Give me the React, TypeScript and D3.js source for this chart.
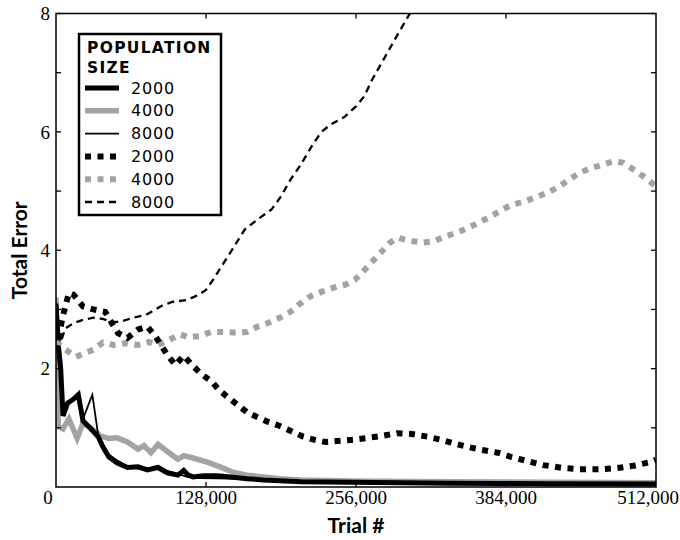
import React from "react";
import * as d3 from "d3";

// Trial in thousands, Total Error
const solid2000: [number, number][] = [
  [0, 3.1], [2, 2.4], [4, 2.0], [6, 1.2], [10, 1.42], [14, 1.47], [19, 1.56], [23, 1.12], [28, 1.02],
  [36, 0.85], [40, 0.68], [45, 0.51], [52, 0.41], [61, 0.33], [70, 0.34], [78, 0.29], [87, 0.33],
  [95, 0.24], [104, 0.2], [109, 0.28], [113, 0.2], [117, 0.17], [126, 0.19], [138, 0.19], [149, 0.17],
  [163, 0.14], [177, 0.12], [209, 0.09], [251, 0.08], [294, 0.07], [336, 0.065], [379, 0.06], [422, 0.055], [512, 0.05],
];
const solid4000: [number, number][] = [
  [0, 3.2], [1, 1.8], [2, 1.02], [6, 0.98], [11, 1.15], [18, 0.82], [23, 1.08], [31, 0.98], [38, 0.86],
  [45, 0.82], [52, 0.83], [61, 0.76], [70, 0.64], [75, 0.7], [81, 0.58], [87, 0.72], [95, 0.6],
  [104, 0.47], [109, 0.53], [117, 0.49], [129, 0.42], [140, 0.34], [151, 0.25], [163, 0.2], [177, 0.17],
  [191, 0.14], [209, 0.12], [251, 0.1], [336, 0.09], [422, 0.08], [512, 0.07],
];
const solid8000: [number, number][] = [
  [0, 2.9], [2, 2.3], [4, 1.9], [6, 1.25], [10, 1.38], [14, 1.5], [19, 1.55], [23, 1.15], [31, 1.56],
  [36, 0.88], [40, 0.7], [45, 0.55], [52, 0.45], [61, 0.35], [70, 0.31], [78, 0.3], [87, 0.36],
  [95, 0.27], [104, 0.22], [112, 0.17], [123, 0.15], [149, 0.14], [177, 0.12], [209, 0.1], [294, 0.08], [512, 0.06],
];
const dotted2000: [number, number][] = [
  [0, 2.3], [5.5, 2.86], [11, 3.28], [15, 3.25], [23, 3.05], [32, 3.0], [42, 2.96], [47, 2.79], [53, 2.6],
  [61, 2.52], [70, 2.66], [78, 2.71], [85, 2.54], [95, 2.23], [102, 2.06], [109, 2.22], [116, 2.06],
  [124, 1.91], [133, 1.78], [139, 1.64], [147, 1.51], [156, 1.37], [164, 1.25], [173, 1.17], [181, 1.1],
  [191, 1.03], [200, 0.95], [211, 0.85], [220, 0.8], [230, 0.76], [243, 0.78], [254, 0.8], [266, 0.83],
  [277, 0.86], [291, 0.91], [302, 0.9], [317, 0.85], [328, 0.8], [339, 0.74], [351, 0.68], [362, 0.63],
  [377, 0.58], [388, 0.51], [402, 0.44], [416, 0.37], [433, 0.32], [447, 0.3], [464, 0.3], [479, 0.32],
  [493, 0.36], [507, 0.42], [512, 0.46],
];
const dotted4000: [number, number][] = [
  [0, 2.45], [6, 2.35], [17, 2.2], [23, 2.25], [32, 2.32], [40, 2.44], [49, 2.4], [59, 2.43], [70, 2.4],
  [79, 2.45], [87, 2.4], [98, 2.5], [106, 2.58], [113, 2.53], [123, 2.55], [132, 2.62], [142, 2.62],
  [151, 2.61], [163, 2.62], [172, 2.71], [181, 2.77], [191, 2.86], [200, 2.96], [207, 3.08], [217, 3.22],
  [227, 3.3], [237, 3.37], [247, 3.42], [255, 3.5], [262, 3.64], [270, 3.81], [278, 3.98], [285, 4.13],
  [292, 4.21], [302, 4.16], [313, 4.13], [322, 4.15], [332, 4.23], [342, 4.3], [352, 4.38], [362, 4.48],
  [371, 4.57], [381, 4.69], [389, 4.77], [399, 4.82], [409, 4.89], [419, 4.97], [428, 5.06], [437, 5.18],
  [446, 5.3], [455, 5.38], [464, 5.43], [475, 5.5], [484, 5.48], [493, 5.36], [501, 5.25], [512, 5.08],
];
const dashed8000: [number, number][] = [
  [0, 3.0], [4, 2.45], [8, 2.68], [15, 2.77], [24, 2.83], [32, 2.86], [40, 2.84], [47, 2.79], [54, 2.79],
  [61, 2.83], [70, 2.88], [77, 2.91], [84, 2.99], [92, 3.08], [100, 3.13], [112, 3.16], [122, 3.25],
  [128, 3.33], [134, 3.5], [141, 3.72], [150, 4.0], [161, 4.35], [172, 4.52], [184, 4.69], [192, 4.91],
  [200, 5.19], [209, 5.45], [218, 5.75], [226, 5.99], [234, 6.12], [246, 6.25], [256, 6.43], [263, 6.6],
  [270, 6.89], [278, 7.17], [286, 7.45], [294, 7.73], [302, 8.0], [320, 8.6],
];

const xTickValues = [0, 128000, 256000, 384000, 512000];
const xTickLabels = ["0", "128,000", "256,000", "384,000", "512,000"];
const yTickValues = [1, 2, 3, 4, 5, 6, 7, 8];
const yLabelValues = [2, 4, 6, 8];
const legendTitle = ["POPULATION", "SIZE"];
const legendLabels = ["2000", "4000", "8000", "2000", "4000", "8000"];

const GRAY = "#a3a3a3";

const styles = [
  { data: solid4000, color: GRAY, width: 5.5, dash: null as string | null },
  { data: solid2000, color: "#000", width: 5, dash: null },
  { data: solid8000, color: "#000", width: 1.8, dash: null },
  { data: dotted4000, color: GRAY, width: 6, dash: "6,6.5" },
  { data: dotted2000, color: "#000", width: 6, dash: "6,6.5" },
  { data: dashed8000, color: "#000", width: 2.3, dash: "7,5" },
];
const legendOrder = [1, 0, 2, 4, 3, 5];

export default function App() {
  const W = 680, H = 540;
  const left = 56, right = 656, top = 13.5, bottom = 487;
  const x = d3.scaleLinear().domain([0, 512000]).range([left, right]);
  const y = d3.scaleLinear().domain([0, 8]).range([bottom, top]);
  const line = d3.line<[number, number]>().x((d) => x(d[0] * 1000)).y((d) => y(d[1]));
  const tickLen = 5;
  const serif = "'Liberation Serif', 'DejaVu Serif', serif";
  const sans = "Lato, 'Open Sans', sans-serif";
  const legendFont = "'DejaVu Sans', sans-serif";
  const lx = 79, ly = 34, lw = 142, lh = 181;
  const rowY = (i: number) => 88 + i * 22.8;

  return (
    <svg width={W} height={H} style={{ position: "absolute", left: 0, top: 0, background: "#fff" }}>
      <defs>
        <clipPath id="plotClip">
          <rect x={left} y={top} width={right - left} height={bottom - top} />
        </clipPath>
      </defs>
      <rect x={0} y={0} width={W} height={H} fill="#fff" />
      <g clipPath="url(#plotClip)" fill="none">
        {styles.map((s, i) => (
          <path
            key={i}
            d={line(s.data) || ""}
            stroke={s.color}
            strokeWidth={s.width}
            strokeDasharray={s.dash || undefined}
            strokeLinejoin="miter"
            strokeLinecap="butt"
          />
        ))}
      </g>
      {/* frame */}
      <rect x={left} y={top} width={right - left} height={bottom - top} fill="none" stroke="#000" strokeWidth={1.5} />
      {/* y ticks left & right */}
      {yTickValues.map((v) => (
        <g key={"yt" + v}>
          <line x1={left} x2={left + tickLen} y1={y(v)} y2={y(v)} stroke="#000" strokeWidth={1.3} />
          <line x1={right} x2={right - tickLen} y1={y(v)} y2={y(v)} stroke="#000" strokeWidth={1.3} />
        </g>
      ))}
      {yLabelValues.map((v) => (
        <text key={"yl" + v} x={50} y={y(v)} dy="0.35em" textAnchor="end" fontFamily={serif} fontSize={19}>
          {v}
        </text>
      ))}
      {/* x ticks bottom & top */}
      {xTickValues.slice(1, -1).map((v) => (
        <g key={"xt" + v}>
          <line x1={x(v)} x2={x(v)} y1={bottom} y2={bottom - tickLen} stroke="#000" strokeWidth={1.3} />
          <line x1={x(v)} x2={x(v)} y1={top} y2={top + tickLen} stroke="#000" strokeWidth={1.3} />
        </g>
      ))}
      {xTickValues.map((v, i) => {
        const last = i === xTickValues.length - 1;
        return (
          <text
            key={"xl" + v}
            x={i === 0 ? x(v) - 8 : last ? W - 1 : x(v)}
            y={504}
            textAnchor={last ? "end" : "middle"}
            fontFamily={serif}
            fontSize={19}
          >
            {xTickLabels[i]}
          </text>
        );
      })}
      <text x={(left + right) / 2} y={533} textAnchor="middle" fontFamily={sans} fontWeight={700} fontSize={21}>
        Trial #
      </text>
      <text
        transform={`translate(27,${(top + bottom) / 2}) rotate(-90)`}
        textAnchor="middle"
        fontFamily={sans}
        fontWeight={700}
        fontSize={21}
      >
        Total Error
      </text>
      {/* legend */}
      <rect x={lx} y={ly} width={lw} height={lh} fill="#fff" stroke="#000" strokeWidth={2.5} />
      {legendTitle.map((t, i) => (
        <text key={t} x={87} y={53 + i * 20} fontFamily={legendFont} fontWeight={700} fontSize={15.5} letterSpacing={1.3}>
          {t}
        </text>
      ))}
      {legendOrder.map((si, i) => {
        const s = styles[si];
        return (
          <g key={"lg" + i}>
            <line
              x1={85}
              x2={119}
              y1={rowY(i)}
              y2={rowY(i)}
              stroke={s.color}
              strokeWidth={s.width}
              strokeDasharray={s.dash || undefined}
            />
            <text x={131} y={rowY(i) + 5.5} fontFamily={legendFont} fontSize={16} letterSpacing={0.8}>
              {legendLabels[i]}
            </text>
          </g>
        );
      })}
    </svg>
  );
}
